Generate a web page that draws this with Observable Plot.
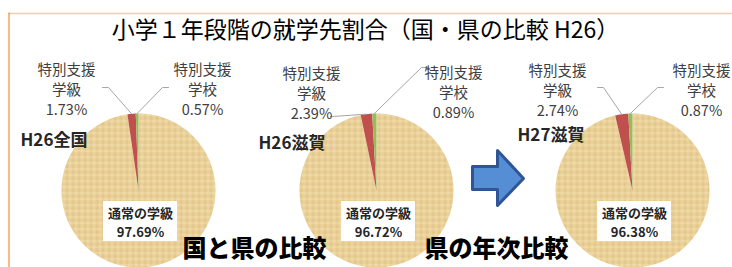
<!DOCTYPE html>
<html><head><meta charset="utf-8">
<script src="https://cdn.jsdelivr.net/npm/d3@7"></script>
<script src="https://cdn.jsdelivr.net/npm/@observablehq/plot@0.6"></script>
<style>body{margin:0;background:#fff} svg{display:block}</style>
</head><body><div id="chart"></div>
<script>
// ---- data ----
const title = "小学１年段階の就学先割合（国・県の比較 H26）";
const pieNames = ["H26全国", "H26滋賀", "H27滋賀"];
const categories = ["通常の学級", "特別支援学級", "特別支援学校"];
const regularPct = [97.69, 96.72, 96.38];
const classPct = [1.73, 2.39, 2.74];
const schoolPct = [0.57, 0.89, 0.87];
const compareLabels = ["国と県の比較", "県の年次比較"];

// ---- layout ----
const W = 732, H = 267, R = 77;
const centers = [[138, 190], [376, 190], [632, 190]];
const nameAnchors = [[20, 140], [258, 143], [517, 135]];
// label centre (middle line) for [学級, 学校] of each pie
const labelPos = [[[66, 88], [202, 88]], [[311, 92], [453, 91]], [[557, 89], [701, 89]]];
// leader start + elbow for [学級, 学校]
const leaderStart = [
  [[[102, 87], [108, 87]], [[168, 87], [162, 87]]],
  [[[330, 116], [332, 116]], [[428, 67], [421, 67]]],
  [[[597, 87], [603, 87]], [[663, 87], [657, 87]]]
];
const comparePos = [[254, 249], [496, 249]];

const wedges = [], leaders = [], sliceLabels = [], centerLabels = [], names = [];
pieNames.forEach((name, i) => {
  const vals = [regularPct[i], classPct[i], schoolPct[i]];
  const arcs = d3.pie().sort(null)(vals);
  const [cx, cy] = centers[i];
  arcs.forEach((a, k) => {
    const id = i + "-" + k;
    wedges.push({id, k, x: cx, y: cy});
    const n = Math.max(2, Math.ceil((a.endAngle - a.startAngle) / 0.01));
    for (let s = 0; s <= n; s++) {
      const t = a.startAngle + (a.endAngle - a.startAngle) * s / n;
      wedges.push({id, k, x: cx + R * Math.sin(t), y: cy - R * Math.cos(t)});
    }
    if (k > 0) {
      const m = (a.startAngle + a.endAngle) / 2;
      const [p0, p1] = leaderStart[i][k - 1];
      leaders.push({id, x: p0[0], y: p0[1]}, {id, x: p1[0], y: p1[1]},
                   {id, x: cx + R * Math.sin(m), y: cy - R * Math.cos(m)});
      const c = categories[k];
      sliceLabels.push({x: labelPos[i][k - 1][0], y: labelPos[i][k - 1][1],
        text: c.slice(0, 4) + "\n" + c.slice(4) + "\n" + vals[k].toFixed(2) + "%"});
    } else {
      centerLabels.push({x: cx + 2, y: cy + 31, text: categories[0] + "\n" + vals[0].toFixed(2) + "%"});
    }
  });
  names.push({x: nameAnchors[i][0], y: nameAnchors[i][1], text: name});
});

// block arrow between pie 2 and pie 3
const ac = [498, 178];
const arrow = [[-26, -12], [-1, -12], [-1, -28], [25, 0], [-1, 27], [-1, 11], [-26, 11]]
  .map(([dx, dy]) => ({x: ac[0] + dx, y: ac[1] + dy}));

const font = "'Noto Sans CJK JP', 'Noto Sans', sans-serif";
const svg = Plot.plot({
  width: W, height: H, margin: 0,
  x: {domain: [0, W], range: [0, W], axis: null},
  y: {domain: [0, H], range: [0, H], axis: null},
  style: {fontFamily: font, background: "#fff"},
  marks: [
    Plot.ruleY([13], {x1: 8, x2: W, stroke: "#f8cbad", strokeWidth: 1.5}),
    Plot.ruleX([8.5], {y1: 12.5, y2: H, stroke: "#f4a460", strokeWidth: 1.5}),
    Plot.text([title], {x: W / 2 - 1, y: 30, fontSize: 23, fill: "#000", fontFamily: font}),
    Plot.line(wedges.filter(d => d.k === 0), {x: "x", y: "y", z: "id", fill: "url(#burlap)", stroke: "none", curve: "linear-closed"}),
    Plot.line(wedges.filter(d => d.k === 1), {x: "x", y: "y", z: "id", fill: "#c0504d", stroke: "none", curve: "linear-closed"}),
    Plot.line(wedges.filter(d => d.k === 2), {x: "x", y: "y", z: "id", fill: "#9bbb59", stroke: "none", curve: "linear-closed"}),
    Plot.line(leaders, {x: "x", y: "y", z: "id", stroke: "#a6a6a6", strokeWidth: 1}),
    Plot.text(sliceLabels, {x: "x", y: "y", text: "text", fontSize: 14.5, lineHeight: 1.37, fill: "#404040"}),
    Plot.rect(centerLabels, {x1: d => d.x - 37, x2: d => d.x + 37, y1: d => d.y - 20, y2: d => d.y + 20, fill: "#fff"}),
    Plot.text(centerLabels, {x: "x", y: "y", text: "text", fontSize: 13, fontWeight: "bold", lineHeight: 1.45, fill: "#262626"}),
    Plot.text(names, {x: "x", y: "y", text: "text", fontSize: 17, fontWeight: "bold", textAnchor: "start", fill: "#262626"}),
    Plot.line(arrow, {x: "x", y: "y", fill: "#558ed5", stroke: "#2f5597", strokeWidth: 3, curve: "linear-closed"}),
    Plot.text(compareLabels, {x: (d, j) => comparePos[j][0], y: (d, j) => comparePos[j][1], fontSize: 24, fontWeight: 900, fill: "#000"})
  ]
});
d3.select(svg).insert("defs", ":first-child").html(`
  <pattern id="burlap" patternUnits="userSpaceOnUse" width="6" height="6">
    <rect width="6" height="6" fill="#eacf96"/>
    <rect x="0" width="1.2" height="6" fill="#d8bb7d" opacity="0.55"/>
    <rect x="3" width="0.8" height="6" fill="#f3e2b5" opacity="0.6"/>
    <rect y="0" width="6" height="1" fill="#f5e6bd" opacity="0.6"/>
    <rect y="3.5" width="6" height="0.8" fill="#d6b97c" opacity="0.4"/>
  </pattern>`);
document.getElementById("chart").appendChild(svg);
</script>
</body></html>
